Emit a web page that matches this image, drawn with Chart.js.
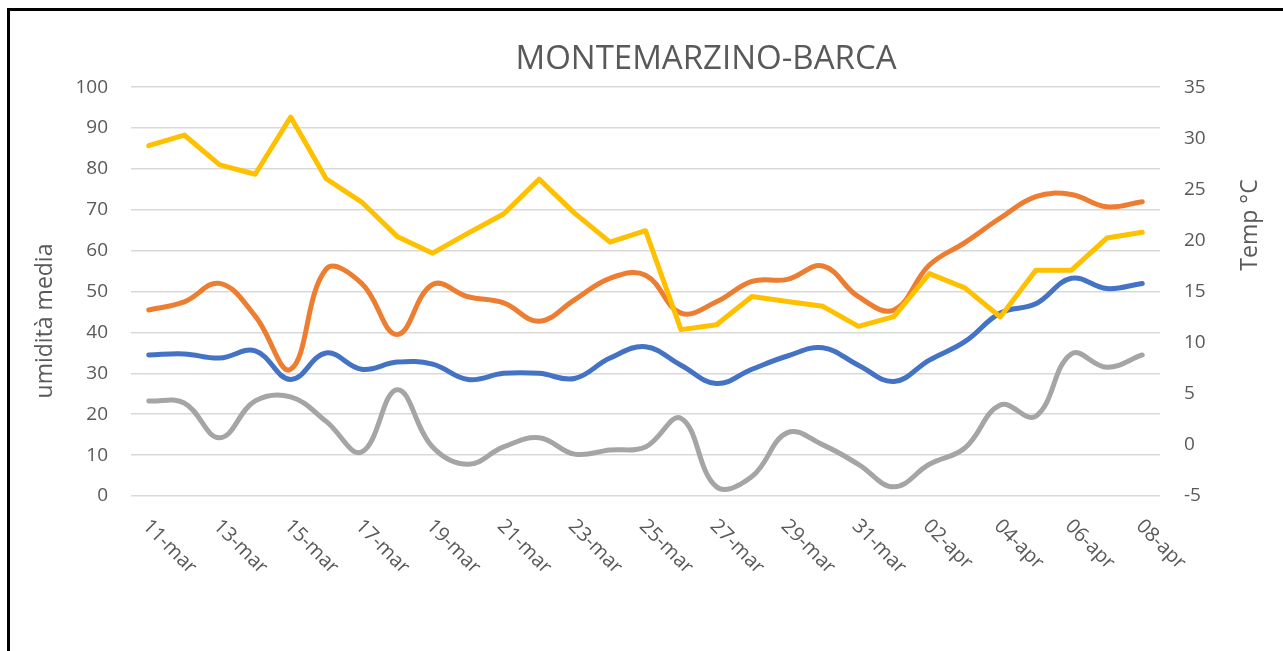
<!DOCTYPE html>
<html>
<head>
<meta charset="utf-8">
<script src="https://cdn.jsdelivr.net/npm/chart.js@4"></script>
<style>
  html, body { margin: 0; padding: 0; background: #fff; overflow: hidden; }
  #wrap { position: relative; width: 1283px; height: 651px; }
  #frame {
    position: absolute; left: 7px; top: 8px; width: 1400px; height: 800px;
    border-left: 3px solid #000; border-top: 3px solid #000; pointer-events: none;
  }
</style>
</head>
<body>
<div id="wrap">
  <canvas id="meteoChart" width="1283" height="651"></canvas>
  <div id="frame"></div>
</div>
<script>
const giorni = [
  '11-mar', '12-mar', '13-mar', '14-mar', '15-mar', '16-mar', '17-mar', '18-mar', '19-mar', '20-mar',
  '21-mar', '22-mar', '23-mar', '24-mar', '25-mar', '26-mar', '27-mar', '28-mar', '29-mar', '30-mar',
  '31-mar', '01-apr', '02-apr', '03-apr', '04-apr', '05-apr', '06-apr', '07-apr', '08-apr'
];

// umidità media (asse sinistro)
const umidita = [85.7, 88.3, 81.0, 78.7, 92.7, 77.6, 71.9, 63.5, 59.4, 64.3,
  69.0, 77.5, 69.2, 62.1, 64.9, 40.7, 41.9, 48.8, 47.6, 46.4,
  41.5, 43.9, 54.4, 50.9, 43.8, 55.2, 55.2, 63.1, 64.5];

// temperature (asse destro)
const tempMax = [13.2, 14.0, 15.8, 12.6, 7.4, 17.2, 15.8, 10.8, 15.7, 14.5,
  13.9, 12.1, 14.2, 16.3, 16.6, 12.9, 14.0, 16.0, 16.2, 17.5,
  14.5, 13.2, 17.6, 19.8, 22.2, 24.3, 24.5, 23.3, 23.8];
const tempMed = [8.8, 8.9, 8.5, 9.2, 6.4, 9.0, 7.4, 8.1, 7.9, 6.4,
  7.0, 7.0, 6.5, 8.5, 9.6, 7.8, 6.0, 7.4, 8.7, 9.5,
  7.8, 6.2, 8.3, 10.1, 12.9, 13.8, 16.3, 15.3, 15.8];
const tempMin = [4.3, 4.1, 0.7, 4.3, 4.7, 2.3, -0.7, 5.4, -0.2, -1.9,
  -0.2, 0.7, -0.9, -0.5, -0.2, 2.6, -4.1, -3.1, 1.2, 0.0,
  -1.9, -4.1, -1.9, -0.3, 3.9, 2.8, 8.9, 7.6, 8.8];

const TITOLO = 'MONTEMARZINO-BARCA';
const FONT = "'Open Sans', 'Noto Sans', sans-serif";
const GREY_TEXT = '#595959';

// titolo, etichette asse x inclinate verso il basso, titoli degli assi
const extraLabels = {
  id: 'extraLabels',
  afterDraw(chart) {
    const ctx = chart.ctx;
    const xs = chart.scales.x;
    ctx.save();
    ctx.fillStyle = GREY_TEXT;

    ctx.font = '33px ' + FONT;
    ctx.textAlign = 'center';
    ctx.textBaseline = 'middle';
    ctx.fillText(TITOLO, 706, 60);

    ctx.font = '20px ' + FONT;
    ctx.textAlign = 'left';
    ctx.textBaseline = 'top';
    giorni.forEach((g, i) => {
      if (i % 2 !== 0) return;
      const x = xs.getPixelForTick(i);
      ctx.save();
      ctx.translate(x + 4, 516);
      ctx.rotate(Math.PI / 4);
      ctx.fillText(g, 0, 0);
      ctx.restore();
    });

    ctx.font = '23px ' + FONT;
    ctx.textAlign = 'center';
    ctx.textBaseline = 'middle';
    ctx.save();
    ctx.translate(45, 321);
    ctx.rotate(-Math.PI / 2);
    ctx.fillText('umidità media', 0, 0);
    ctx.restore();
    ctx.save();
    ctx.translate(1250, 225);
    ctx.rotate(-Math.PI / 2);
    ctx.fillText('Temp °C', 0, 0);
    ctx.restore();
    ctx.restore();
  }
};

const ctx = document.getElementById('meteoChart').getContext('2d');
new Chart(ctx, {
  type: 'line',
  data: {
    labels: giorni,
    datasets: [
      {
        label: 'umidità media',
        data: umidita,
        yAxisID: 'y',
        borderColor: '#FFC000',
        tension: 0
      },
      {
        label: 'T min',
        data: tempMin,
        yAxisID: 'y1',
        borderColor: '#A5A5A5',
        tension: 0.4
      },
      {
        label: 'T max',
        data: tempMax,
        yAxisID: 'y1',
        borderColor: '#ED7D31',
        tension: 0.4
      },
      {
        label: 'T media',
        data: tempMed,
        yAxisID: 'y1',
        borderColor: '#4472C4',
        tension: 0.4
      }
    ]
  },
  options: {
    responsive: false,
    animation: false,
    layout: { padding: 0 },
    elements: {
      point: { radius: 0 },
      line: { borderWidth: 5, borderCapStyle: 'round', borderJoinStyle: 'round', fill: false }
    },
    plugins: {
      legend: { display: false },
      tooltip: { enabled: false },
      // solo per riservare lo spazio, il testo viene disegnato dal plugin
      title: {
        display: true,
        text: TITOLO,
        color: 'rgba(0,0,0,0)',
        font: { family: FONT, size: 31, weight: 'normal' },
        padding: { top: 42, bottom: 8 }
      }
    },
    scales: {
      x: {
        offset: true,
        grid: { display: false },
        border: { display: false },
        ticks: { display: false },
        afterFit(scale) { scale.height = 155; }
      },
      y: {
        position: 'left',
        min: 0,
        max: 100,
        ticks: {
          stepSize: 10,
          color: GREY_TEXT,
          padding: 23,
          font: { family: FONT, size: 19 }
        },
        grid: { color: '#d9d9d9', lineWidth: 1.5, drawTicks: false },
        border: { display: false },
        afterFit(scale) { scale.width = 131; }
      },
      y1: {
        position: 'right',
        min: -5,
        max: 35,
        ticks: {
          stepSize: 5,
          color: GREY_TEXT,
          padding: 24,
          font: { family: FONT, size: 19 }
        },
        grid: { drawOnChartArea: false, drawTicks: false },
        border: { display: false },
        afterFit(scale) { scale.width = 123; }
      }
    }
  },
  plugins: [extraLabels]
});
</script>
</body>
</html>
